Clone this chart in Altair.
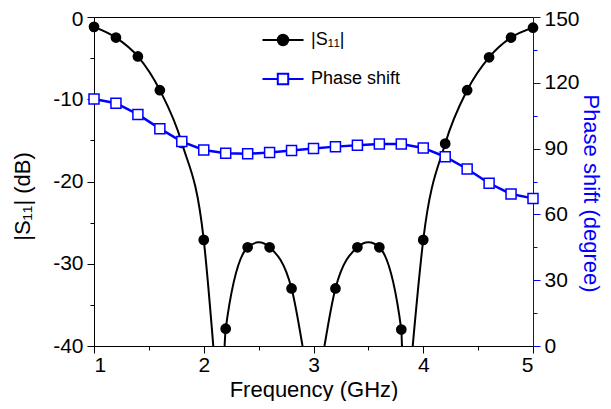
import altair as alt
import pandas as pd

# ---------------- data ----------------
# |S11| markers (GHz, dB); 3.0 GHz lies below the -40 dB floor
s11_freq = [1.0, 1.2, 1.4, 1.6, 1.8, 2.0, 2.2, 2.4, 2.6, 2.8,
            3.2, 3.4, 3.6, 3.8, 4.0, 4.2, 4.4, 4.6, 4.8, 5.0]
s11_db = [-1.2, -2.5, -4.8, -8.9, -15.3, -27.1, -37.9, -28.0, -28.0, -33.0,
          -33.0, -28.0, -28.0, -38.0, -27.1, -15.4, -8.9, -4.9, -2.5, -1.3]

# smooth |S11| curve (4 visible branches)
curve_seg = [1, 1, 1, 1, 1, 1, 1,
             2, 2, 2, 2, 2, 2, 2,
             3, 3, 3, 3, 3, 3, 3,
             4, 4, 4, 4, 4, 4, 4]
curve_freq = [1.0, 1.2, 1.4, 1.6, 1.8, 2.0, 2.087,
              2.19, 2.2, 2.4, 2.5, 2.6, 2.8, 2.90,
              3.10, 3.2, 3.4, 3.5, 3.6, 3.8, 3.806,
              3.904, 4.0, 4.2, 4.4, 4.6, 4.8, 5.0]
curve_db = [-1.2, -2.5, -4.8, -8.9, -15.3, -27.1, -40.0,
            -40.0, -37.9, -28.0, -27.4, -28.0, -33.0, -40.0,
            -40.0, -33.0, -28.0, -27.4, -28.0, -38.0, -40.0,
            -40.0, -27.1, -15.4, -8.9, -4.9, -2.5, -1.3]

# phase shift (degree)
ph_freq = [1.0, 1.2, 1.4, 1.6, 1.8, 2.0, 2.2, 2.4, 2.6, 2.8, 3.0,
           3.2, 3.4, 3.6, 3.8, 4.0, 4.2, 4.4, 4.6, 4.8, 5.0]
ph_deg = [112.6, 110.7, 105.6, 99.1, 93.2, 89.4, 87.9, 87.6, 88.2, 89.1, 90.0,
          90.9, 91.5, 92.1, 92.1, 90.3, 86.3, 80.7, 74.2, 69.3, 67.3]

legend_names = ["|S\u2081\u2081|", "Phase shift"]

# ---------------- tables ----------------
s11_pts = pd.DataFrame({"f": s11_freq, "v": s11_db})
s11_curve = pd.DataFrame({"f": curve_freq, "v": curve_db, "seg": curve_seg})
phase = pd.DataFrame({"f": ph_freq, "p": ph_deg})
leg = pd.DataFrame({"series": legend_names})

FONT = "Liberation Sans"
LBL = 21
TTL = 22

xscale = alt.Scale(domain=[1, 5], nice=False, zero=False)
x_vals = [1, 1.5, 2, 2.5, 3, 3.5, 4, 4.5, 5]
x_axis = alt.Axis(
    values=x_vals, title="Frequency (GHz)", grid=False,
    labelExpr="datum.value % 1 === 0 ? '' + datum.value : ''",
    tickSize={"condition": {"test": "datum.value % 1 === 0", "value": 7}, "value": 4},
    domainColor="black", tickColor="black", labelColor="black", titleColor="black",
    labelFont=FONT, titleFont=FONT, labelFontSize=LBL, titleFontSize=TTL,
    titleFontWeight="normal", labelPadding=1,
    titleX=219.5, titleY=50, titleBaseline="alphabetic", titleAlign="center",
)
x_enc = alt.X("f:Q", scale=xscale, axis=x_axis)

left_axis = alt.Axis(
    values=list(range(-40, 1, 5)), title="|S\u2081\u2081| (dB)", grid=False,
    orient="left",
    labelExpr="datum.value % 10 === 0 ? '' + datum.value : ''",
    labelOffset={"condition": {"test": "datum.value === 0", "value": 2}, "value": 0},
    tickSize={"condition": {"test": "datum.value % 10 === 0", "value": 7}, "value": 4},
    domainColor="black", tickColor="black", labelColor="black", titleColor="black",
    labelFont=FONT, titleFont=FONT, labelFontSize=LBL, titleFontSize=TTL,
    titleFontWeight="normal", labelPadding=4,
    titleX=-72, titleY=179, titleAngle=270, titleBaseline="middle", titleAlign="center",
)
right_axis = alt.Axis(
    values=list(range(0, 151, 15)), title="Phase shift (degree)", grid=False,
    orient="right",
    labelExpr="datum.value % 30 === 0 ? '' + datum.value : ''",
    labelOffset={"condition": {"test": "datum.value === 150", "value": 2}, "value": 0},
    tickSize={"condition": {"test": "datum.value % 30 === 0", "value": 7}, "value": 4},
    domainColor="blue", tickColor="blue", labelColor="black", titleColor="blue",
    labelFont=FONT, titleFont=FONT, labelFontSize=LBL, titleFontSize=TTL,
    titleFontWeight="normal", labelPadding=4,
    titleX=57, titleY=176, titleAngle=90, titleBaseline="middle", titleAlign="center",
)

yl = alt.Y("v:Q", scale=alt.Scale(domain=[-40, 0], nice=False), axis=left_axis)
yr = alt.Y("p:Q", scale=alt.Scale(domain=[0, 150], nice=False), axis=right_axis)

s11_line = alt.Chart(s11_curve).mark_line(
    interpolate="monotone", color="black", strokeWidth=2, clip=True
).encode(x=x_enc, y=yl, detail="seg:N")
s11_mark = alt.Chart(s11_pts).mark_point(
    shape="circle", filled=True, color="black", size=115, opacity=1
).encode(x=x_enc, y=yl)

circ_path = ("M-1.14,0H1.14M-0.29,0A0.29,0.29 0 1,0 0.29,0"
             "A0.29,0.29 0 1,0 -0.29,0Z")
sq_path = "M-1.14,0H-0.29M0.29,0H1.14M-0.29,-0.29H0.29V0.29H-0.29Z"

leg_def = alt.Legend(
    title=None, orient="none", legendX=170, legendY=4,
    symbolSize=1296, symbolStrokeWidth=2, symbolOpacity=1,
    labelFont=FONT, labelFontSize=18, labelColor="black", labelOffset=9,
    rowPadding=10, padding=0, labelLimit=300,
)
legend_layer = alt.Chart(leg).mark_point(opacity=1, strokeWidth=2).encode(
    stroke=alt.Stroke("series:N", scale=alt.Scale(domain=legend_names, range=["black", "blue"]), legend=leg_def),
    fill=alt.Fill("series:N", scale=alt.Scale(domain=legend_names, range=["black", "white"]), legend=leg_def),
    shape=alt.Shape("series:N", scale=alt.Scale(domain=legend_names, range=[circ_path, sq_path]), legend=leg_def),
).transform_filter("false")

left = alt.layer(s11_line, s11_mark, legend_layer)

ph_line = alt.Chart(phase).mark_line(color="blue", strokeWidth=2.5).encode(x=x_enc, y=yr)
ph_mark = alt.Chart(phase).mark_point(
    shape="square", filled=True, fill="white", stroke="blue", strokeWidth=1.5,
    size=100, opacity=1
).encode(x=x_enc, y=yr)
right = alt.layer(ph_line, ph_mark)

chart = alt.layer(left, right).resolve_scale(y="independent").properties(
    width=439, height=329,
    autosize=alt.AutoSizeParams(type="none"),
    padding={"left": 86, "top": 9, "right": 70, "bottom": 55},
    background="white",
).configure_view(stroke="black", strokeWidth=1)

chart.save("out.html", embed_options={"renderer": "svg", "actions": False})
